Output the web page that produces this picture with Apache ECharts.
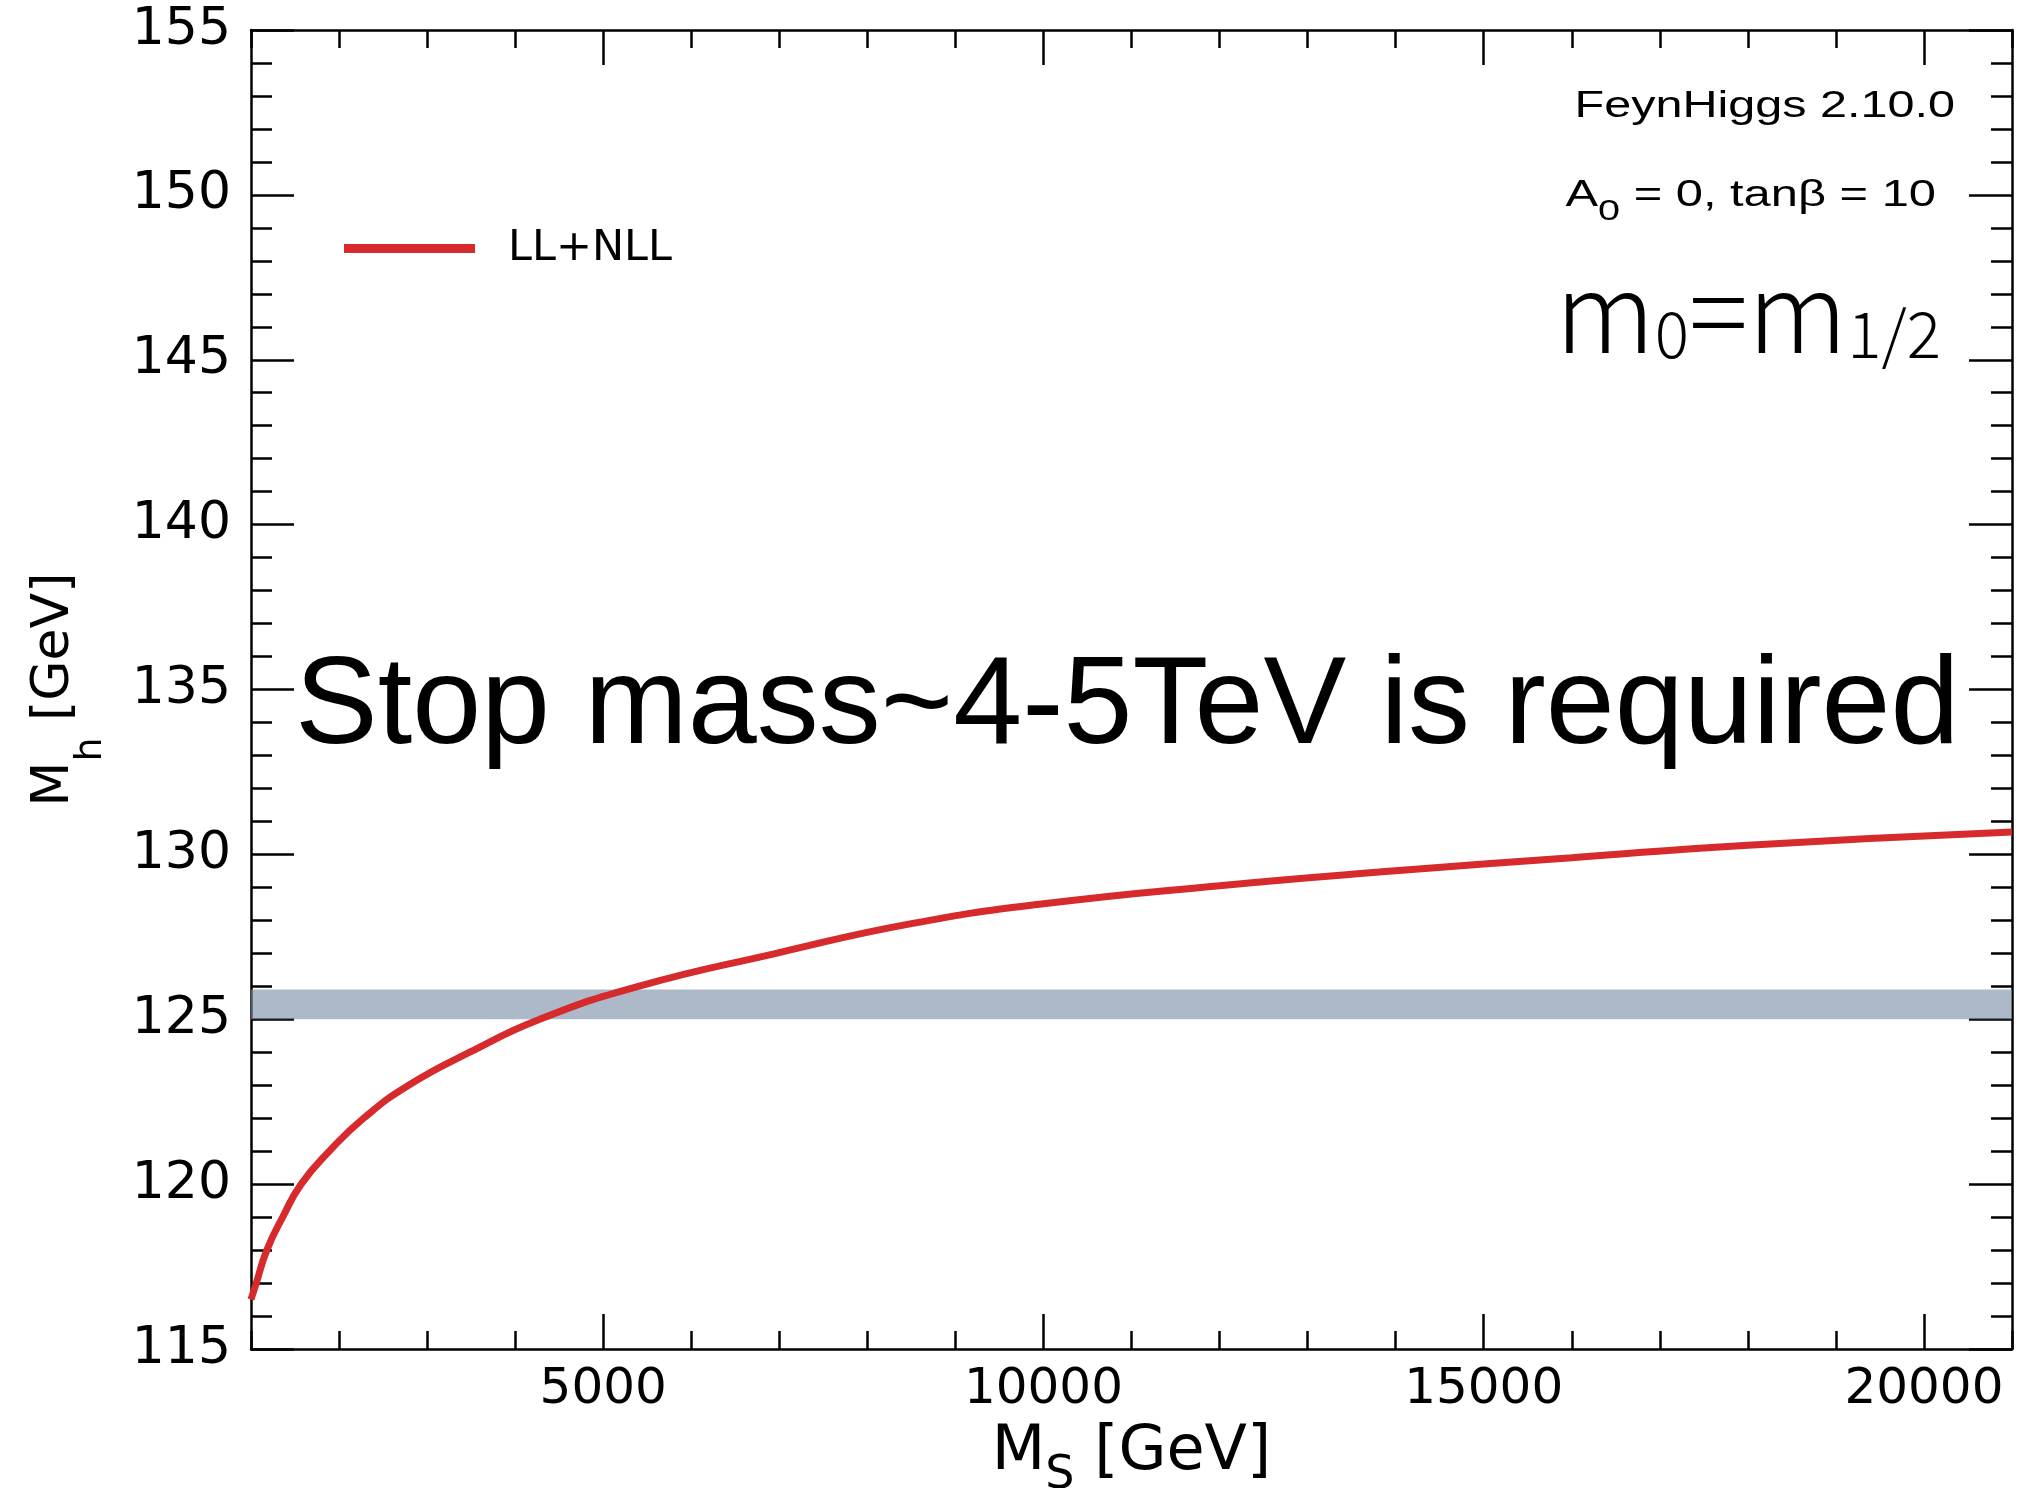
<!DOCTYPE html>
<html>
<head>
<meta charset="utf-8">
<script src="https://cdn.jsdelivr.net/npm/echarts@6/dist/echarts.min.js"></script>
<style>
  html, body { margin: 0; padding: 0; background: #fff; }
  #chart { width: 2020px; height: 1488px; }
</style>
</head>
<body>
<div id="chart"></div>
<script>
// Light Higgs mass M_h as a function of the SUSY scale M_S (FeynHiggs, LL+NLL resummation)
const susyScale = [1000, 1060, 1180, 1360, 1570, 1890, 2280, 2790, 3485, 4280, 5400, 6965, 8500, 10000, 12000, 14000, 16000, 18000, 21000];
const higgsMass = [116.5, 117.0, 118.0, 119.0, 120.0, 121.0, 122.0, 123.0, 124.0, 125.0, 126.0, 127.0, 127.9, 128.5, 129.05, 129.5, 129.9, 130.28, 130.68];
// measured Higgs mass band
const measuredBand = [125.0, 125.9];
// axis ranges and ticks
const xRange = [1000, 21000];
const xMajorTicks = [5000, 10000, 15000, 20000];
const xMinorStep = 1000;
const yRange = [115, 155];
const yStep = 5;

const AXIS_FONT = 'DejaVu Sans';
const INK = '#000';
const axisLine = { show: true, lineStyle: { color: INK, width: 2.5 } };
const tickLine = { color: INK, width: 2.5 };

function xAxisPair(position, withLabels) {
  const major = {
    type: 'value', position, min: xRange[0], max: xRange[1], gridIndex: 0,
    axisLine,
    axisTick: { show: true, inside: true, length: 35, lineStyle: tickLine, customValues: xMajorTicks },
    axisLabel: withLabels
      ? { show: true, customValues: xMajorTicks, fontSize: 50, fontFamily: AXIS_FONT, color: INK, margin: 16, lineHeight: 50,
          formatter: (v) => String(v) }
      : { show: false },
    splitLine: { show: false }
  };
  const minor = {
    type: 'value', position, min: xRange[0], max: xRange[1], interval: xMinorStep, gridIndex: 0,
    axisLine: { show: false },
    axisTick: { show: true, inside: true, length: 18, lineStyle: tickLine },
    axisLabel: { show: false },
    splitLine: { show: false }
  };
  return [major, minor];
}

function yAxisOf(position, withLabels) {
  return {
    type: 'value', position, min: yRange[0], max: yRange[1], interval: yStep, gridIndex: 0,
    axisLine,
    axisTick: { show: true, inside: true, length: 43, lineStyle: tickLine },
    minorTick: { show: true, splitNumber: 5, length: 21, lineStyle: tickLine },
    axisLabel: withLabels
      ? { show: true, fontSize: 52, fontFamily: AXIS_FONT, color: INK, margin: 20 }
      : { show: false },
    splitLine: { show: false },
    minorSplitLine: { show: false }
  };
}

const xBottom = xAxisPair('bottom', true);
const xTop = xAxisPair('top', false);
Object.assign(xBottom[0], {
  name: '{m|M}{s|S}{m| [GeV]}',
  nameLocation: 'middle',
  nameGap: 88,
  nameMoveOverlap: false,
  nameTextStyle: {
    rich: {
      m: { fontSize: 62, lineHeight: 62, fontFamily: AXIS_FONT, color: INK, padding: [0, 0, 15, 0], verticalAlign: 'bottom' },
      s: { fontSize: 46, lineHeight: 46, fontFamily: AXIS_FONT, color: INK, verticalAlign: 'bottom' }
    }
  }
});

const yLeft = yAxisOf('left', true);
Object.assign(yLeft, {
  name: '{m|M}{s|h}{m| [GeV]}',
  nameLocation: 'middle',
  nameRotate: 90,
  nameGap: 141,
  nameMoveOverlap: false,
  nameTextStyle: {
    rich: {
      m: { fontSize: 52, lineHeight: 52, fontFamily: AXIS_FONT, color: INK, padding: [0, 0, 30, 0], verticalAlign: 'bottom' },
      s: { fontSize: 38, lineHeight: 38, fontFamily: AXIS_FONT, color: INK, verticalAlign: 'bottom' }
    }
  }
});
const yRight = yAxisOf('right', false);

const curve = susyScale.map((x, i) => [x, higgsMass[i]]);

const option = {
  backgroundColor: '#fff',
  animation: false,
  grid: { left: 251, right: 8, top: 30, bottom: 139, outerBoundsMode: 'none', containLabel: false },
  xAxis: [xBottom[0], xBottom[1], xTop[0], xTop[1]],
  yAxis: [yLeft, yRight],
  legend: {
    data: [{ name: 'LL+NLL', icon: 'rect' }],
    left: 344, top: 227, padding: 0,
    itemWidth: 131, itemHeight: 9,
    formatter: '{t|{name}}',
    textStyle: {
      fontSize: 43, fontFamily: AXIS_FONT, color: INK,
      rich: { t: { fontSize: 43, fontFamily: AXIS_FONT, color: INK, padding: [0, 0, 0, 28] } }
    },
    selectedMode: false
  },
  series: [
    {
      name: 'LL+NLL', type: 'line', xAxisIndex: 0, yAxisIndex: 0,
      data: curve, smooth: 0.5, showSymbol: false,
      lineStyle: { color: '#d62a2c', width: 7 },
      itemStyle: { color: '#d62a2c' },
      z: 2
    },
    {
      name: 'measured', type: 'line', xAxisIndex: 0, yAxisIndex: 0,
      data: [], z: 5, silent: true,
      markArea: {
        silent: true,
        itemStyle: { color: 'rgba(125,144,168,0.63)' },
        data: [[{ yAxis: measuredBand[0] }, { yAxis: measuredBand[1] }]]
      }
    }
  ],
  graphic: [
    {
      type: 'text', x: 1955, y: 107, scaleX: 1.33,
      style: { text: 'FeynHiggs 2.10.0', fontSize: 36.5, fontFamily: 'Liberation Sans', fill: INK, align: 'right', verticalAlign: 'middle' }
    },
    {
      type: 'text', x: 1936, y: 227, scaleX: 1.32,
      style: {
        text: '{a|A}{b|0}{a| = 0, tanβ = 10}',
        align: 'right', verticalAlign: 'bottom',
        rich: {
          a: { fontSize: 37, lineHeight: 37, fontFamily: 'Liberation Sans', fill: INK, padding: [0, 0, 13, 0], verticalAlign: 'bottom' },
          b: { fontSize: 30, lineHeight: 30, fontFamily: 'Liberation Sans', fill: INK, verticalAlign: 'bottom' }
        }
      }
    },
    {
      type: 'text', x: 1941, y: 366,
      style: {
        text: '{m|m}{d|0}{m|=m}{d|1/2}',
        align: 'right', verticalAlign: 'bottom',
        rich: {
          m: { fontSize: 110, lineHeight: 110, fontFamily: 'Noto Sans CJK JP', fontWeight: 300, fill: INK, verticalAlign: 'bottom' },
          d: { fontSize: 64, lineHeight: 64, fontFamily: 'Noto Sans CJK JP', fontWeight: 300, fill: INK, verticalAlign: 'bottom' }
        }
      }
    },
    {
      type: 'text', x: 295, y: 709,
      style: { text: 'Stop mass~4-5TeV is required', fontSize: 124, fontFamily: 'Liberation Sans', fill: INK, align: 'left', verticalAlign: 'middle' }
    }
  ]
};

const chart = echarts.init(document.getElementById('chart'), null, { renderer: 'canvas' });
chart.setOption(option);
</script>
</body>
</html>
